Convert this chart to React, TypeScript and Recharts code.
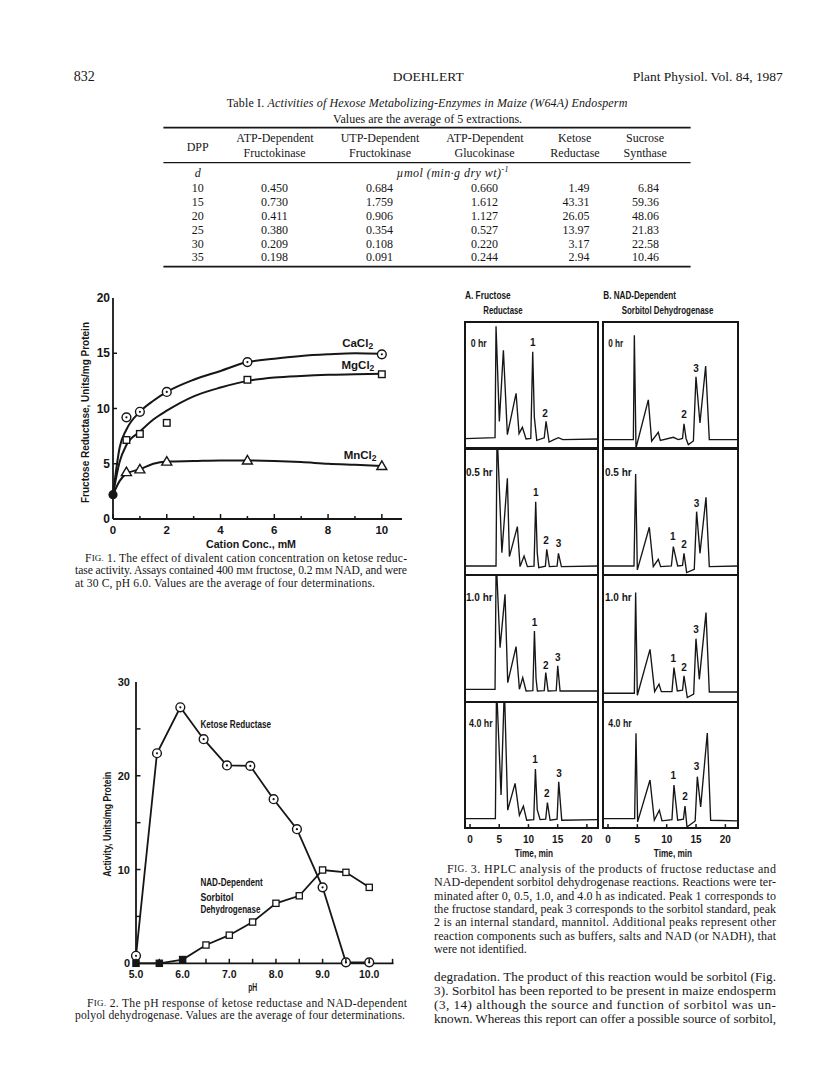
import React from 'react';
import { ComposedChart, Line, Scatter, XAxis, YAxis } from 'recharts';

const INK = '#161616';
const SERIF = "'Liberation Serif', 'Times New Roman', Times, serif";
const SANS = "'Liberation Sans', Arial, Helvetica, sans-serif";

// ---------------- Page header ----------------
const pageNumber = '832';
const runningAuthor = 'DOEHLERT';
const journalRef = 'Plant Physiol. Vol. 84, 1987';

// ---------------- Table I ----------------
const tableTitleLead = 'Table I. ';
const tableTitleItalic = 'Activities of Hexose Metabolizing-Enzymes in Maize (W64A) Endosperm';
const tableSubtitle = 'Values are the average of 5 extractions.';
const tableHeadLine1 = ['ATP-Dependent', 'UTP-Dependent', 'ATP-Dependent', 'Ketose', 'Sucrose'];
const tableHeadLine2 = ['Fructokinase', 'Fructokinase', 'Glucokinase', 'Reductase', 'Synthase'];
const tableDPP = [10, 15, 20, 25, 30, 35];
const tableAtpFructokinase = [0.45, 0.73, 0.411, 0.38, 0.209, 0.198];
const tableUtpFructokinase = [0.684, 1.759, 0.906, 0.354, 0.108, 0.091];
const tableAtpGlucokinase = [0.66, 1.612, 1.127, 0.527, 0.22, 0.244];
const tableKetoseReductase = [1.49, 43.31, 26.05, 13.97, 3.17, 2.94];
const tableSucroseSynthase = [6.84, 59.36, 48.06, 21.83, 22.58, 10.46];

// ---------------- Fig. 1 ----------------
const fig1Conc = [0.5, 1, 2, 5, 10];
const fig1CaCl2 = [9.2, 9.7, 11.5, 14.2, 14.9];
const fig1MgCl2 = [7.15, 7.7, 8.7, 12.6, 13.1];
const fig1MnCl2 = [4.25, 4.5, 5.2, 5.3, 4.8];
const fig1NoCation = 2.2;
const fig1CurveConc = [0, 0.25, 0.5, 1, 1.5, 2, 3, 4, 5, 6, 7, 8, 9, 10];
const fig1CaCurve = [2.2, 6.5, 8.1, 9.7, 10.7, 11.5, 12.6, 13.4, 14.2, 14.5, 14.75, 14.9, 15.0, 14.95];
const fig1MgCurve = [2.2, 5.2, 6.7, 7.9, 9.0, 9.8, 11.1, 11.9, 12.5, 12.8, 12.95, 13.05, 13.1, 13.15];
const fig1MnCurve = [2.2, 3.45, 4.1, 4.5, 5.0, 5.2, 5.25, 5.3, 5.3, 5.25, 5.15, 5.0, 4.9, 4.8];
const fig1LabelText = ['CaCl2', 'MgCl2', 'MnCl2'];
const fig1LabelConc = [9.1, 9.11, 9.19];
const fig1LabelValue = [15.93, 13.94, 5.79];
const fig1XTicks = [0, 1, 2, 3, 4, 5, 6, 7, 8, 9, 10];
const fig1XTicksTop = [2, 4, 6, 8, 10];
const fig1YTicks = [0, 5, 10, 15, 20];

// ---------------- Fig. 2 ----------------
const fig2KetosePH = [5.0, 5.45, 5.95, 6.45, 6.95, 7.45, 7.95, 8.45, 9.0, 9.5, 10.0];
const fig2KetoseActivity = [0.8, 22.4, 27.3, 23.9, 21.1, 21.05, 17.5, 14.3, 8.1, 0.1, 0.1];
const fig2SorbitolPH = [5.0, 5.5, 6.0, 6.5, 7.0, 7.5, 8.0, 8.5, 9.0, 9.5, 10.0];
const fig2SorbitolActivity = [0, 0, 0.4, 1.95, 3.0, 4.4, 6.4, 7.2, 9.95, 9.7, 8.1];
const fig2SorbitolFilled = [true, true, true, false, false, false, false, false, false, false, false];
const fig2LabelText = ['Ketose Reductase', 'NAD-Dependent', 'Sorbitol', 'Dehydrogenase'];
const fig2LabelPH = [6.38, 6.38, 6.38, 6.38];
const fig2LabelValue = [25.5, 8.64, 7.1, 5.76];
const fig2XTicks = [5, 5.5, 6, 6.5, 7, 7.5, 8, 8.5, 9, 9.5, 10, 10.5];
const fig2XTicksTop = [5.5, 6, 6.5, 7, 7.5, 8, 8.5, 9, 9.5, 10, 10.5];
const fig2YTicks = [0, 5, 10, 15, 20, 25, 30];
const fig2YTicksRight = [5, 10, 15, 20, 25];

// ---------------- Fig. 3 (HPLC traces: time in min, detector signal in % of panel) ----------------
const hplcTimeLabels = ['0 hr', '0.5 hr', '1.0 hr', '4.0 hr'];
const hplcTicks = [0, 5, 10, 15, 20];

const hplcA0Time = [-0.8, 4.28, 4.45, 5.02, 5.71, 6.39, 7.88, 8.39, 8.96, 9.59, 10.4, 10.73, 11.0, 11.42, 12.7, 13.01, 13.53, 14.27, 15.13, 15.87, 21.86];
const hplcA0Signal = [7.9, 8.6, 96.6, 21.5, 77.7, 11.0, 43.7, 11.8, 16.8, 7.6, 8.0, 76.4, 25, 6.5, 8.5, 21.5, 5.2, 6.8, 8.6, 7.1, 7.6];
const hplcA0Peaks = [['1', 10.73, 83.5], ['2', 12.84, 28]];

const hplcA1Time = [-0.8, 4.45, 4.6, 4.75, 5.45, 6.39, 6.74, 8.1, 8.56, 9.25, 9.82, 10.95, 11.24, 11.5, 11.76, 12.9, 13.13, 13.58, 14.9, 15.13, 15.64, 21.86];
const hplcA1Signal = [7.6, 7.6, 100, 100, 18, 76.8, 15.0, 38.7, 7.1, 15.5, 7.1, 7.5, 58.4, 18, 6.3, 7.5, 20.8, 7.1, 7.5, 17.6, 7.1, 7.6];
const hplcA1Peaks = [['1', 11.24, 65.5], ['2', 13.01, 27.6], ['3', 15.13, 25.0]];

const hplcA2Time = [-0.8, 4.28, 4.45, 4.6, 5.14, 5.99, 6.45, 7.88, 8.45, 9.02, 9.59, 10.75, 11.02, 11.3, 11.53, 12.7, 12.96, 13.36, 14.75, 15.01, 15.41, 21.86];
const hplcA2Signal = [9.7, 9.7, 100, 100, 42.6, 84.7, 15.0, 43.4, 9.7, 18.9, 8.4, 8.6, 55.8, 18, 8.4, 8.6, 22.9, 8.4, 8.6, 28.2, 8.4, 8.4];
const hplcA2Peaks = [['1', 11.02, 62.4], ['2', 12.96, 28.9], ['3', 15.01, 34.5]];

const hplcA3Time = [-0.8, 4.34, 4.51, 4.65, 5.31, 5.8, 5.95, 6.45, 7.71, 8.45, 9.13, 9.7, 10.9, 11.19, 11.5, 11.99, 12.95, 13.24, 13.7, 14.9, 15.18, 15.7, 21.9];
const hplcA3Signal = [7.9, 7.9, 100, 100, 26.5, 100, 100, 14.6, 35.7, 10.6, 17.7, 6.6, 7, 47.1, 15, 7.1, 7.5, 20.6, 6.6, 7.5, 37.0, 6.6, 7.1];
const hplcA3Peaks = [['1', 11.13, 54.2], ['2', 13.13, 27.8], ['3', 15.24, 43.7]];

const hplcB0Time = [-0.8, 4.32, 4.49, 4.77, 6.87, 7.44, 8.57, 8.92, 11.13, 11.98, 12.7, 12.95, 13.3, 13.69, 14.55, 14.99, 15.67, 16.64, 17.26, 19.08, 22.1];
const hplcB0Signal = [7.1, 7.1, 89.5, 0.5, 38.5, 5.8, 12.8, 6.5, 8.9, 7.1, 8, 19.6, 8, 3.1, 6, 56.8, 20.2, 65.2, 7.1, 7.1, 7.1];
const hplcB0Peaks = [['2', 12.95, 26.7], ['3', 14.99, 63.4]];

const hplcB1Time = [-0.8, 4.43, 4.71, 5.0, 7.04, 7.72, 8.57, 8.97, 10.8, 11.13, 11.87, 12.7, 12.95, 13.4, 14.7, 15.1, 15.67, 16.7, 17.26, 22.1];
const hplcB1Signal = [7.6, 7.6, 80.3, 4.5, 38.2, 7.1, 12.9, 7.1, 7.6, 22.9, 7.6, 8, 17.6, 2.4, 5, 50.5, 17.6, 61.8, 7.1, 7.6];
const hplcB1Peaks = [['1', 11.02, 30.8], ['2', 12.95, 24.2], ['3', 15.1, 57.1]];

const hplcB2Time = [-0.8, 4.49, 4.71, 5.0, 7.16, 7.95, 8.69, 9.09, 10.9, 11.24, 11.81, 12.7, 12.95, 13.51, 14.6, 14.99, 15.56, 16.7, 17.26, 22.1];
const hplcB2Signal = [6.6, 6.6, 86.1, 5.0, 41.3, 7.9, 13.7, 7.9, 8, 26.8, 8.4, 9, 20.3, 3.2, 6, 49.7, 17.6, 70.3, 7.6, 7.6];
const hplcB2Peaks = [['1', 11.13, 33.9], ['2', 12.95, 26.8], ['3', 14.99, 57.1]];

const hplcB3Time = [-0.8, 4.54, 4.77, 5.05, 7.16, 7.89, 8.75, 9.2, 10.9, 11.24, 11.87, 12.85, 13.12, 13.46, 14.85, 15.22, 15.79, 16.92, 17.49, 22.1];
const hplcB3Signal = [7.9, 7.9, 75.4, 5.3, 38.4, 6.6, 14.6, 6.1, 7, 34.4, 6.6, 7.5, 17.7, 1.3, 6, 41.0, 17.2, 75.4, 6.6, 6.1];
const hplcB3Peaks = [['1', 11.13, 42.3], ['2', 13.12, 25.7], ['3', 15.1, 48.9]];

// ---------------- Captions and body text ----------------
const fig1CaptionLines = [
  'FIG. 1. The effect of divalent cation concentration on ketose reduc-',
  'tase activity. Assays contained 400 mM fructose, 0.2 mM NAD, and were',
  'at 30 C, pH 6.0. Values are the average of four determinations.',
];
const fig2CaptionLines = [
  'FIG. 2. The pH response of ketose reductase and NAD-dependent',
  'polyol dehydrogenase. Values are the average of four determinations.',
];
const fig3CaptionLines = [
  'FIG. 3. HPLC analysis of the products of fructose reductase and',
  'NAD-dependent sorbitol dehydrogenase reactions. Reactions were ter-',
  'minated after 0, 0.5, 1.0, and 4.0 h as indicated. Peak 1 corresponds to',
  'the fructose standard, peak 3 corresponds to the sorbitol standard, peak',
  '2 is an internal standard, mannitol. Additional peaks represent other',
  'reaction components such as buffers, salts and NAD (or NADH), that',
  'were not identified.',
];
const bodyLines = [
  'degradation. The product of this reaction would be sorbitol (Fig.',
  '3). Sorbitol has been reported to be present in maize endosperm',
  '(3, 14) although the source and function of sorbitol was un-',
  'known. Whereas this report can offer a possible source of sorbitol,',
];

// ---------------- helpers ----------------
type TickSide = 'bottom' | 'top' | 'left' | 'right';
interface TickOpts {
  len: (v: number) => number;
  label?: (v: number) => string | null;
  gap?: number;
  size?: number;
  sw?: number;
}

function makeTick(side: TickSide, o: TickOpts) {
  return (p: any) => {
    const v = Number(p?.payload?.value);
    const x = Number(p.x);
    const y = Number(p.y);
    const L = o.len(v);
    let x2 = x;
    let y2 = y;
    if (side === 'bottom') y2 = y - L;
    else if (side === 'top') y2 = y + L;
    else if (side === 'left') x2 = x + L;
    else x2 = x - L;
    const lab = o.label ? o.label(v) : null;
    const gap = o.gap ?? 8;
    const common = {
      fontFamily: SANS,
      fontWeight: 700,
      fontSize: o.size ?? 11,
      fill: INK,
      dominantBaseline: 'central' as any,
    };
    return (
      <g>
        {L > 0 ? <line x1={x} y1={y} x2={x2} y2={y2} stroke={INK} strokeWidth={o.sw ?? 1.5} /> : null}
        {lab != null ? (
          side === 'left' ? (
            <text x={x - gap} y={y} textAnchor="end" {...common}>{lab}</text>
          ) : (
            <text x={x} y={y + gap} textAnchor="middle" {...common}>{lab}</text>
          )
        ) : null}
      </g>
    );
  };
}

function xTitle(text: string, dy: number, dx: number, len: number, size: number) {
  return (lp: any) => {
    const vb = lp?.viewBox ?? { x: 0, y: 0, width: 0, height: 0 };
    return (
      <text x={vb.x + vb.width / 2 + dx} y={vb.y + dy} textAnchor="middle" dominantBaseline="central"
        fontFamily={SANS} fontWeight={700} fontSize={size} fill={INK} textLength={len} lengthAdjust="spacingAndGlyphs">
        {text}
      </text>
    );
  };
}

function yTitle(text: string, offset: number, dy: number, len: number, size: number) {
  return (lp: any) => {
    const vb = lp?.viewBox ?? { x: 0, y: 0, width: 0, height: 0 };
    const cx = vb.x + offset;
    const cy = vb.y + vb.height / 2 + dy;
    return (
      <text x={cx} y={cy} transform={`rotate(-90 ${cx} ${cy})`} textAnchor="middle" dominantBaseline="central"
        fontFamily={SANS} fontWeight={700} fontSize={size} fill={INK} textLength={len} lengthAdjust="spacingAndGlyphs">
        {text}
      </text>
    );
  };
}

const circleDot = (p: any) => (
  <g>
    <circle cx={p.cx} cy={p.cy} r={4.4} fill="#fff" stroke={INK} strokeWidth={1.4} />
    <circle cx={p.cx} cy={p.cy} r={1.1} fill={INK} />
  </g>
);
const openSquare = (p: any) => (
  <rect x={p.cx - 3.3} y={p.cy - 3.3} width={6.6} height={6.6} fill="#fff" stroke={INK} strokeWidth={1.4} />
);
const openTriangle = (p: any) => (
  <polygon points={`${p.cx},${p.cy - 5} ${p.cx - 5},${p.cy + 3.6} ${p.cx + 5},${p.cy + 3.6}`} fill="#fff" stroke={INK} strokeWidth={1.4} />
);
const filledCircle = (p: any) => <circle cx={p.cx} cy={p.cy} r={4.6} fill={INK} />;
const sorbitolSquare = (p: any) => {
  const filled = !!p.payload?.filled;
  return <rect x={p.cx - 3.1} y={p.cy - 3.1} width={6.2} height={6.2} fill={filled ? INK : '#fff'} stroke={INK} strokeWidth={1.3} />;
};
const saltLabel = (p: any) => {
  const t = String(p.payload?.text ?? '');
  return (
    <text x={p.cx} y={p.cy} textAnchor="middle" dominantBaseline="central" fontFamily={SANS} fontWeight={700} fontSize={11.5} fill={INK}>
      {t.slice(0, -1)}
      <tspan fontSize={8.5} dy={3}>{t.slice(-1)}</tspan>
    </text>
  );
};
const fig2LabelWidths: Record<string, number> = {
  'Ketose Reductase': 70.7,
  'NAD-Dependent': 62.3,
  Sorbitol: 33,
  Dehydrogenase: 60,
};
const fig2Label = (p: any) => {
  const t = String(p.payload?.text ?? '');
  return (
    <text x={p.cx} y={p.cy} textAnchor="start" dominantBaseline="central" fontFamily={SANS} fontWeight={700} fontSize={10.5} fill={INK}
      textLength={fig2LabelWidths[t]} lengthAdjust="spacingAndGlyphs">
      {t}
    </text>
  );
};
const peakLabel = (p: any) => (
  <text x={p.cx} y={p.cy} textAnchor="middle" dominantBaseline="central" fontFamily={SANS} fontWeight={700} fontSize={10} fill={INK}>
    {p.payload?.text}
  </text>
);

const axisStroke = { stroke: INK, strokeWidth: 1.8 };

// ---------------- Fig. 1 ----------------
function Fig1() {
  const pts = (vals: number[]) => fig1Conc.map((x, i) => ({ x, y: vals[i] }));
  const curve = (vals: number[]) => fig1CurveConc.map((x, i) => ({ x, y: vals[i] }));
  const labels = fig1LabelText.map((text, i) => ({ x: fig1LabelConc[i], y: fig1LabelValue[i], text }));
  return (
    <ComposedChart width={350} height={272} margin={{ top: 10, right: 8, bottom: 9, left: 8 }}>
      <XAxis dataKey="x" type="number" domain={[0, 10.75]} ticks={fig1XTicks} interval={0} height={32}
        axisLine={axisStroke} tickLine={false} tickSize={0} tickMargin={0}
        tick={makeTick('bottom', { len: (v) => (v % 2 === 0 ? 5 : 3), label: (v) => (v % 2 === 0 ? String(v) : null), gap: 11, size: 11.5 })}
        label={xTitle('Cation Conc., mM', 24.6, -6.5, 90, 11)} />
      <XAxis xAxisId="t" orientation="top" dataKey="x" type="number" domain={[0, 10.75]} ticks={fig1XTicksTop} interval={0} height={0}
        axisLine={axisStroke} tickLine={false} tickSize={0} tickMargin={0} tick={makeTick('top', { len: () => 5 })} />
      <YAxis dataKey="y" type="number" domain={[0, 20]} ticks={fig1YTicks} interval={0} width={45}
        axisLine={axisStroke} tickLine={false} tickSize={0} tickMargin={0}
        tick={makeTick('left', { len: (v) => (v === 0 || v === 20 ? 0 : 4), label: (v) => String(v), gap: 3, size: 12 })}
        label={yTitle('Fructose Reductase, Units/mg Protein', 17, 4, 181, 10.5)} />
      <YAxis yAxisId="r" orientation="right" dataKey="y" type="number" domain={[0, 20]} ticks={[5, 10, 15]} interval={0} width={0}
        axisLine={axisStroke} tickLine={false} tickSize={0} tickMargin={0} tick={makeTick('right', { len: () => 5 })} />
      <Line data={curve(fig1CaCurve)} dataKey="y" type="monotone" stroke={INK} strokeWidth={2} dot={false} isAnimationActive={false} />
      <Line data={curve(fig1MgCurve)} dataKey="y" type="monotone" stroke={INK} strokeWidth={2} dot={false} isAnimationActive={false} />
      <Line data={curve(fig1MnCurve)} dataKey="y" type="monotone" stroke={INK} strokeWidth={2} dot={false} isAnimationActive={false} />
      <Scatter data={pts(fig1CaCl2)} dataKey="y" shape={circleDot} isAnimationActive={false} />
      <Scatter data={pts(fig1MgCl2)} dataKey="y" shape={openSquare} isAnimationActive={false} />
      <Scatter data={pts(fig1MnCl2)} dataKey="y" shape={openTriangle} isAnimationActive={false} />
      <Scatter data={[{ x: 0, y: fig1NoCation }]} dataKey="y" shape={filledCircle} isAnimationActive={false} />
      <Scatter data={labels} dataKey="y" shape={saltLabel} isAnimationActive={false} />
    </ComposedChart>
  );
}

// ---------------- Fig. 2 ----------------
function Fig2() {
  const ketose = fig2KetosePH.map((x, i) => ({ x, y: fig2KetoseActivity[i] }));
  const sorb = fig2SorbitolPH.map((x, i) => ({ x, y: fig2SorbitolActivity[i], filled: fig2SorbitolFilled[i] }));
  const labels = fig2LabelText.map((text, i) => ({ x: fig2LabelPH[i], y: fig2LabelValue[i], text }));
  return (
    <ComposedChart width={345} height={332} margin={{ top: 10, right: 11.5, bottom: 8.7, left: 8 }}>
      <XAxis dataKey="x" type="number" domain={[5, 10.52]} ticks={fig2XTicks} interval={0} height={32}
        axisLine={axisStroke} tickLine={false} tickSize={0} tickMargin={0}
        tick={makeTick('bottom', { len: () => 4.5, label: (v) => (Number.isInteger(v) ? v.toFixed(1) : null), gap: 11, size: 10.5 })}
        label={xTitle('pH', 24, -12, 9, 10.5)} />
      <XAxis xAxisId="t" orientation="top" dataKey="x" type="number" domain={[5, 10.52]} ticks={fig2XTicksTop} interval={0} height={0}
        axisLine={axisStroke} tickLine={false} tickSize={0} tickMargin={0} tick={makeTick('top', { len: () => 4.5 })} />
      <YAxis dataKey="y" type="number" domain={[0, 30]} ticks={fig2YTicks} interval={0} width={68}
        axisLine={axisStroke} tickLine={false} tickSize={0} tickMargin={0}
        tick={makeTick('left', { len: (v) => (v === 0 || v === 30 ? 0 : 4.5), label: (v) => (v % 10 === 0 ? String(v) : null), gap: 6, size: 11 })}
        label={yTitle('Activity, Units/mg Protein', 38.7, 1.5, 105, 10.5)} />
      <YAxis yAxisId="r" orientation="right" dataKey="y" type="number" domain={[0, 30]} ticks={fig2YTicksRight} interval={0} width={0}
        axisLine={axisStroke} tickLine={false} tickSize={0} tickMargin={0} tick={makeTick('right', { len: () => 4.5 })} />
      <Line data={ketose} dataKey="y" type="linear" stroke={INK} strokeWidth={1.8} dot={false} isAnimationActive={false} />
      <Line data={sorb} dataKey="y" type="linear" stroke={INK} strokeWidth={1.8} dot={false} isAnimationActive={false} />
      <Scatter data={ketose} dataKey="y" shape={circleDot} isAnimationActive={false} />
      <Scatter data={sorb} dataKey="y" shape={sorbitolSquare} isAnimationActive={false} />
      <Scatter data={labels} dataKey="y" shape={fig2Label} isAnimationActive={false} />
    </ComposedChart>
  );
}

// ---------------- Fig. 3 ----------------
const hplcColLeft = [465, 603];
const hplcColWidth = [133, 135];
const hplcDomains: [number, number][] = [[-0.86, 21.9], [-0.85, 22.15]];
const ROW0 = 322;
const ROWH = 126.6;

function HplcPanel({ col, row, time, signal, peaks }: any) {
  const left = hplcColLeft[col];
  const width = hplcColWidth[col];
  const top = ROW0 + row * ROWH;
  const isBottom = row === 3;
  const axisH = isBottom ? 34 : 0;
  const h = ROWH + axisH;
  const data = time.map((t: number, i: number) => ({ x: t, y: signal[i] }));
  const peakData = peaks.map((pk: any[]) => ({ x: pk[1], y: pk[2], text: pk[0] }));
  return (
    <div style={{ position: 'absolute', left, top, width, height: h }}>
      <ComposedChart width={width} height={h} margin={{ top: 0, right: 0, bottom: 0, left: 0 }}>
        <XAxis dataKey="x" type="number" domain={hplcDomains[col]} ticks={hplcTicks} interval={0} height={axisH}
          axisLine={false} tickLine={false} tickSize={0} tickMargin={0}
          tick={makeTick('bottom', { len: () => 4.5, label: isBottom ? (v) => String(v) : undefined, gap: 10.6, size: 10 })}
          label={isBottom ? xTitle('Time, min', 25, 2.5, 38.3, 10) : undefined} />
        <YAxis dataKey="y" type="number" domain={[0, 100]} hide />
        <Line data={data} dataKey="y" type="linear" stroke={INK} strokeWidth={1.35} dot={false} isAnimationActive={false} />
        <Scatter data={peakData} dataKey="y" shape={peakLabel} isAnimationActive={false} />
      </ComposedChart>
    </div>
  );
}

function Fig3() {
  const cols = [
    [
      [hplcA0Time, hplcA0Signal, hplcA0Peaks],
      [hplcA1Time, hplcA1Signal, hplcA1Peaks],
      [hplcA2Time, hplcA2Signal, hplcA2Peaks],
      [hplcA3Time, hplcA3Signal, hplcA3Peaks],
    ],
    [
      [hplcB0Time, hplcB0Signal, hplcB0Peaks],
      [hplcB1Time, hplcB1Signal, hplcB1Peaks],
      [hplcB2Time, hplcB2Signal, hplcB2Peaks],
      [hplcB3Time, hplcB3Signal, hplcB3Peaks],
    ],
  ];
  return (
    <>
      {cols.map((rows, c) =>
        rows.map((r, i) => <HplcPanel key={`p${c}${i}`} col={c} row={i} time={r[0]} signal={r[1]} peaks={r[2]} />)
      )}
      {[0, 1].map((c) => (
        <div key={`f${c}`} style={{
          position: 'absolute', left: hplcColLeft[c] - 1, top: ROW0 - 1, width: hplcColWidth[c] + 2, height: 4 * ROWH + 2,
          border: `2px solid ${INK}`, boxSizing: 'border-box',
        }} />
      ))}
      {[0, 1].map((c) =>
        [1, 2, 3].map((i) => (
          <div key={`d${c}${i}`} style={{
            position: 'absolute', left: hplcColLeft[c], top: ROW0 + i * ROWH - 1.2, width: hplcColWidth[c], height: 2.4, background: INK,
          }} />
        ))
      )}
    </>
  );
}

// ---------------- Page text ----------------
function Txt({ x, y, size, anchor = 'start', family = SERIF, weight = 400, italic = false, len, adjust = 'spacing', children }: any) {
  const extra: any = len ? { textLength: len, lengthAdjust: adjust } : {};
  return (
    <text x={x} y={y} fontSize={size} textAnchor={anchor} dominantBaseline="central" fontFamily={family}
      fontWeight={weight} fontStyle={italic ? 'italic' : 'normal'} fill={INK} {...extra}>
      {children}
    </text>
  );
}

function rich(str: string, size: number) {
  const parts = str.split(/(FIG\.|mM)/);
  return parts.map((p, i) => {
    if (p === 'FIG.') return <React.Fragment key={i}>F<tspan fontSize={size * 0.78}>IG.</tspan></React.Fragment>;
    if (p === 'mM') return <React.Fragment key={i}>m<tspan fontSize={size * 0.78}>M</tspan></React.Fragment>;
    return <React.Fragment key={i}>{p}</React.Fragment>;
  });
}

const fig1CapBox = [[85, 558.3, 322], [75, 570.8, 332], [75, 583.3, 300]];
const fig2CapBox = [[87, 1003.3, 320], [75, 1015.3, 330]];
const fig3CapBox = [[447, 869, 329], [434, 882.3, 342], [434, 895.7, 342], [434, 909, 342], [434, 922.3, 342], [434, 935.7, 342], [434, 949.3, 92.7]];
const bodyBox = [[434, 976.7, 342], [434, 990.7, 342], [434, 1004.3, 342], [434, 1018.3, 342]];

function PageText() {
  const headCenters1 = [275, 380, 485, 574.6, 645];
  const headCenters2 = [274.6, 380, 484.6, 575, 645.2];
  const rowY = [188.3, 202.3, 216, 230, 244, 257.3];
  const capSize = 11.6;
  const a = [
    { x: 470.7, l: 16 }, { x: 466, l: 26.7 }, { x: 466, l: 26.7 }, { x: 469, l: 23.7 },
  ];
  const b = [
    { x: 608.3, l: 15 }, { x: 605, l: 26.7 }, { x: 605, l: 26.7 }, { x: 608.3, l: 23.4 },
  ];
  const hrY = [343.3, 471.7, 596.7, 723.3];
  return (
    <svg width={816} height={1073} style={{ position: 'absolute', left: 0, top: 0 }}>
      {/* running head */}
      <Txt x={73.8} y={76.7} size={14} len={21}>{pageNumber}</Txt>
      <Txt x={428.3} y={76.7} size={13.5} anchor="middle" len={71}>{runningAuthor}</Txt>
      <Txt x={782.8} y={76.7} size={13.5} anchor="end" len={150}>{journalRef}</Txt>

      {/* table */}
      <Txt x={226.7} y={103.3} size={12} len={400.6}>
        {tableTitleLead}
        <tspan fontStyle="italic">{tableTitleItalic}</tspan>
      </Txt>
      <Txt x={427.6} y={119.3} size={12} anchor="middle" len={189}>{tableSubtitle}</Txt>
      <line x1={163.4} x2={690.6} y1={127.7} y2={127.7} stroke={INK} strokeWidth={1.7} />
      <line x1={163.4} x2={690.6} y1={162.7} y2={162.7} stroke={INK} strokeWidth={1.2} />
      <line x1={163.4} x2={690.6} y1={266.7} y2={266.7} stroke={INK} strokeWidth={1.7} />
      <Txt x={197.7} y={146.7} size={12} anchor="middle">DPP</Txt>
      {tableHeadLine1.map((t, i) => <Txt key={`h1${i}`} x={headCenters1[i]} y={138.3} size={12} anchor="middle">{t}</Txt>)}
      {tableHeadLine2.map((t, i) => <Txt key={`h2${i}`} x={headCenters2[i]} y={152.7} size={12} anchor="middle">{t}</Txt>)}
      <Txt x={197.7} y={173.3} size={12} anchor="middle" italic>d</Txt>
      <Txt x={452.6} y={173.3} size={12} anchor="middle" italic len={112}>
        µmol (min·g dry wt)<tspan fontSize={8} dy={-4}>-1</tspan>
      </Txt>
      {tableDPP.map((d, i) => (
        <g key={`r${i}`}>
          <Txt x={197.7} y={rowY[i]} size={12} anchor="middle">{d}</Txt>
          <Txt x={274.6} y={rowY[i]} size={12} anchor="middle">{tableAtpFructokinase[i].toFixed(3)}</Txt>
          <Txt x={379.6} y={rowY[i]} size={12} anchor="middle">{tableUtpFructokinase[i].toFixed(3)}</Txt>
          <Txt x={484.6} y={rowY[i]} size={12} anchor="middle">{tableAtpGlucokinase[i].toFixed(3)}</Txt>
          <Txt x={589.4} y={rowY[i]} size={12} anchor="end">{tableKetoseReductase[i].toFixed(2)}</Txt>
          <Txt x={659} y={rowY[i]} size={12} anchor="end">{tableSucroseSynthase[i].toFixed(2)}</Txt>
        </g>
      ))}

      {/* captions */}
      {fig1CaptionLines.map((t, i) => (
        <Txt key={`c1${i}`} x={fig1CapBox[i][0]} y={fig1CapBox[i][1]} size={capSize} len={fig1CapBox[i][2]}>{rich(t, capSize)}</Txt>
      ))}
      {fig2CaptionLines.map((t, i) => (
        <Txt key={`c2${i}`} x={fig2CapBox[i][0]} y={fig2CapBox[i][1]} size={capSize} len={fig2CapBox[i][2]}>{rich(t, capSize)}</Txt>
      ))}
      {fig3CaptionLines.map((t, i) => (
        <Txt key={`c3${i}`} x={fig3CapBox[i][0]} y={fig3CapBox[i][1]} size={12} len={fig3CapBox[i][2]}>{rich(t, 12)}</Txt>
      ))}
      {bodyLines.map((t, i) => (
        <Txt key={`b${i}`} x={bodyBox[i][0]} y={bodyBox[i][1]} size={13.2} len={bodyBox[i][2]}>{t}</Txt>
      ))}

      {/* Fig. 3 headings */}
      <Txt x={465} y={295} size={10.5} family={SANS} weight={700} len={45.7} adjust="spacingAndGlyphs">A. Fructose</Txt>
      <Txt x={483.3} y={310} size={10.5} family={SANS} weight={700} len={39.4} adjust="spacingAndGlyphs">Reductase</Txt>
      <Txt x={603.3} y={295} size={10.5} family={SANS} weight={700} len={72.7} adjust="spacingAndGlyphs">B. NAD-Dependent</Txt>
      <Txt x={621.7} y={310} size={10.5} family={SANS} weight={700} len={91.7} adjust="spacingAndGlyphs">Sorbitol Dehydrogenase</Txt>
      {hplcTimeLabels.map((t, i) => (
        <g key={`hr${i}`}>
          <Txt x={a[i].x} y={hrY[i]} size={10.5} family={SANS} weight={700} len={a[i].l} adjust="spacingAndGlyphs">{t}</Txt>
          <Txt x={b[i].x} y={hrY[i]} size={10.5} family={SANS} weight={700} len={b[i].l} adjust="spacingAndGlyphs">{t}</Txt>
        </g>
      ))}
    </svg>
  );
}

export default function App() {
  return (
    <div style={{ position: 'absolute', left: 0, top: 0, width: 816, height: 1073, background: '#fff', overflow: 'hidden' }}>
      <PageText />
      <div style={{ position: 'absolute', left: 60, top: 288 }}>
        <Fig1 />
      </div>
      <div style={{ position: 'absolute', left: 59.5, top: 672 }}>
        <Fig2 />
      </div>
      <Fig3 />
    </div>
  );
}
